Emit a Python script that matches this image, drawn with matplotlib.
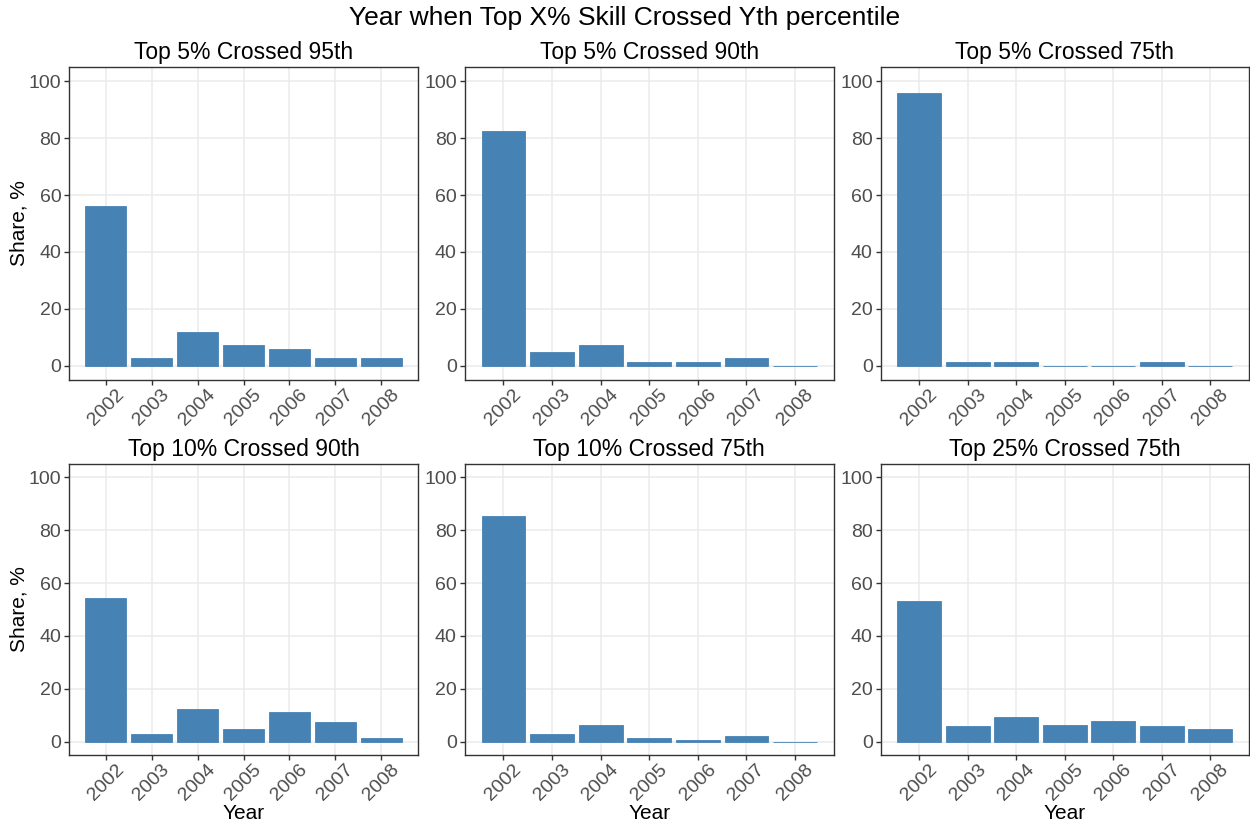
import matplotlib
import matplotlib.pyplot as plt
import numpy as np

matplotlib.use('agg')
plt.rcParams['font.family'] = ['Liberation Sans', 'DejaVu Sans']

years = ['2002', '2003', '2004', '2005', '2006', '2007', '2008']
titles = ['Top 5% Crossed 95th', 'Top 5% Crossed 90th', 'Top 5% Crossed 75th',
          'Top 10% Crossed 90th', 'Top 10% Crossed 75th', 'Top 25% Crossed 75th']

top5_95 = [56.2, 2.8, 11.8, 7.4, 6.0, 2.8, 2.8]
top5_90 = [82.6, 4.7, 7.4, 1.4, 1.4, 2.8, 0.0]
top5_75 = [95.8, 1.4, 1.4, 0.0, 0.0, 1.4, 0.0]
top10_90 = [54.5, 2.8, 12.2, 5.0, 11.4, 7.3, 1.3]
top10_75 = [85.4, 2.8, 6.5, 1.3, 0.5, 2.0, 0.0]
top25_75 = [53.3, 5.8, 9.5, 6.2, 8.0, 5.8, 5.0]
series = [top5_95, top5_90, top5_75, top10_90, top10_75, top25_75]

W, H = 1250, 827
fig = plt.figure(figsize=(12.5, 8.27), dpi=100)

# axes boxes in pixels: left, right / top, bottom
cols = [(69, 418), (464.5, 834), (880.5, 1249)]
rows = [(67, 380), (464, 755)]

for i, vals in enumerate(series):
    r, c = divmod(i, 3)
    x0, x1 = cols[c]
    y0, y1 = rows[r]
    ax = fig.add_axes([x0 / W, 1 - y1 / H, (x1 - x0) / W, (y1 - y0) / H])
    x = np.arange(1, len(years) + 1)
    ax.bar(x, vals, width=0.9, color='#4682B4', edgecolor='#4682B4', linewidth=0.6, zorder=3)
    ax.set_xlim(0.2, 7.8)
    ax.set_ylim(-5, 105)
    ax.set_xticks(x)
    ax.set_xticklabels(years, rotation=45, ha='center', va='top')
    ax.set_yticks([0, 20, 40, 60, 80, 100])
    ax.grid(True, color='#EBEBEB', linewidth=1.1, zorder=0)
    ax.set_axisbelow(True)
    for s in ax.spines.values():
        s.set_color('#333333')
        s.set_linewidth(1.0)
    ax.tick_params(axis='both', colors='#333333', length=3.5, width=1.0,
                   labelsize=14, labelcolor='#4D4D4D', pad=2)
    ax.tick_params(axis='x', pad=1)
    ax.set_title(titles[i], fontsize=16.5, color='black', pad=6)
    if c == 0:
        ax.set_ylabel('Share, %', fontsize=15)
        ax.yaxis.set_label_coords(-0.117, 0.5)
    if r == 1:
        ax.set_xlabel('Year', fontsize=15)
        ax.xaxis.set_label_coords(0.5, -0.17)

fig.suptitle('Year when Top X% Skill Crossed Yth percentile', fontsize=19, y=0.993, va='top')

plt.savefig('out.png')
